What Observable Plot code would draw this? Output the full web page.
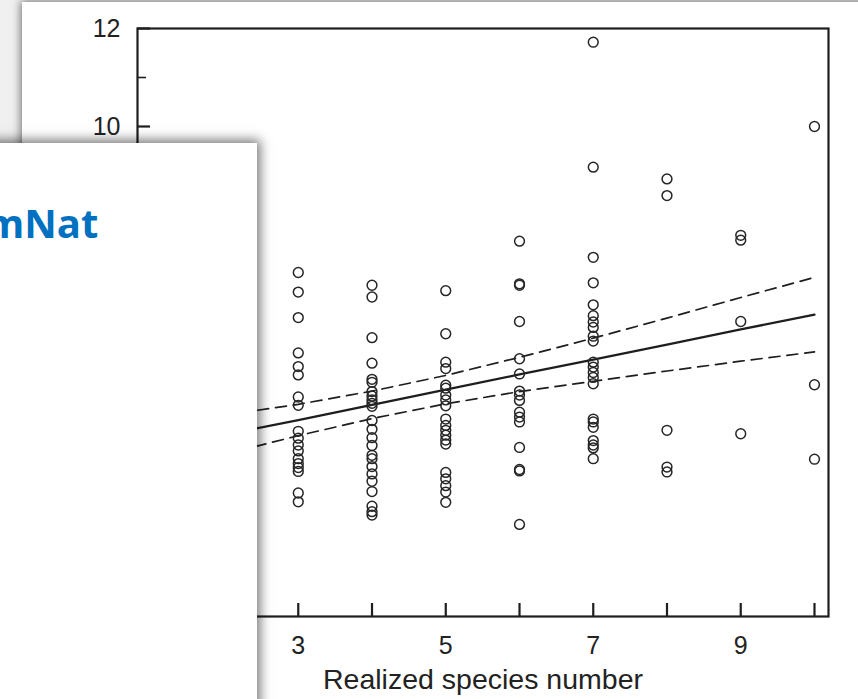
<!DOCTYPE html>
<html>
<head>
<meta charset="utf-8">
<script src="https://cdn.jsdelivr.net/npm/d3@7"></script>
<script src="https://cdn.jsdelivr.net/npm/@observablehq/plot@0.6"></script>
<style>
  html, body { margin: 0; padding: 0; background: #fff; }
  #stage { position: relative; width: 858px; height: 699px; overflow: hidden; background: #f0f0f0; }
  #sheet { position: absolute; left: 22px; top: 2px; width: 900px; height: 760px; background: #fff;
           box-shadow: 0 0 9px 1px rgba(0,0,0,0.55); }
  #chart { position: absolute; left: 0; top: 0; }
  #panel { position: absolute; left: -30px; top: 143px; width: 287px; height: 620px; background: #fff;
           box-shadow: 0 0 11px 3px rgba(0,0,0,0.55); }
  #panel .head { position: absolute; left: 15px; top: 60px; font: 700 40px/40px "Open Sans", sans-serif;
                 color: #0070C0; white-space: nowrap; }
</style>
</head>
<body>
<div id="stage">
  <div id="sheet"></div>
  <div id="chart"></div>
  <div id="panel"><div class="head">mNat</div></div>
</div>
<script>
// Observed values for each realized species number
const speciesLevels = [3, 4, 5, 6, 7, 8, 9, 10];
const valuesAt3 = [7.02, 6.62, 6.10, 5.38, 5.10, 4.93, 4.48, 4.31, 3.78, 3.64, 3.50, 3.38, 3.22, 3.12, 3.04, 2.96, 2.52, 2.34];
const valuesAt4 = [6.76, 6.52, 5.69, 5.17, 4.84, 4.78, 4.59, 4.50, 4.42, 4.35, 4.29, 4.00, 3.82, 3.65, 3.49, 3.29, 3.22, 3.06, 2.91, 2.76, 2.55, 2.25, 2.14, 2.07];
const valuesAt5 = [6.65, 5.77, 5.19, 5.06, 4.72, 4.66, 4.52, 4.42, 4.30, 4.03, 3.90, 3.80, 3.70, 3.60, 3.52, 2.94, 2.81, 2.67, 2.54, 2.33];
const valuesAt6 = [7.66, 6.79, 6.76, 6.02, 5.26, 4.95, 4.60, 4.52, 4.41, 4.17, 4.07, 3.97, 3.45, 3.00, 2.97, 1.88];
const valuesAt7 = [11.72, 9.17, 7.33, 6.81, 6.36, 6.14, 6.01, 5.90, 5.72, 5.62, 5.19, 5.09, 4.98, 4.88, 4.75, 4.03, 3.97, 3.86, 3.59, 3.50, 3.44, 3.22];
const valuesAt8 = [8.93, 8.59, 3.80, 3.05, 2.95];
const valuesAt9 = [7.78, 7.68, 6.02, 3.73];
const valuesAt10 = [10.0, 4.73, 3.21];

// Fitted regression line with its confidence band
const fitSpecies = [1, 2, 3, 4, 5, 6, 7, 8, 9, 10];
const fitMean  = [3.40, 3.71, 4.01, 4.32, 4.63, 4.94, 5.24, 5.55, 5.86, 6.16];
const fitUpper = [3.90, 4.11, 4.33, 4.60, 4.92, 5.29, 5.68, 6.09, 6.51, 6.92];
const fitLower = [2.90, 3.31, 3.69, 4.04, 4.34, 4.59, 4.80, 5.01, 5.21, 5.40];

// Axis ticks
const xTicks = [1, 2, 3, 4, 5, 6, 7, 8, 9, 10];
const xTickLabels = [1, 3, 5, 7, 9];
const yMajorTicks = [0, 2, 4, 6, 8, 10, 12];
const yMinorTicks = [1, 3, 5, 7, 9, 11];
const xTitle = "Realized species number";

const columns = [valuesAt3, valuesAt4, valuesAt5, valuesAt6, valuesAt7, valuesAt8, valuesAt9, valuesAt10];
const points = columns.flatMap((vals, i) => vals.map(v => ({species: speciesLevels[i], value: v})));
const fit = fitSpecies.map((s, i) => ({species: s, mean: fitMean[i], upper: fitUpper[i], lower: fitLower[i]}));

const W = 858, H = 699;
const margin = {top: 28, right: 30, bottom: 83, left: 137};
const plotW = W - margin.left - margin.right;
const plotH = H - margin.top - margin.bottom;
const ink = "#1e1e1e";

const chart = Plot.plot({
  width: W,
  height: H,
  marginTop: margin.top,
  marginRight: margin.right,
  marginBottom: margin.bottom,
  marginLeft: margin.left,
  style: {fontFamily: "'Liberation Sans', Arial, sans-serif", background: "transparent", color: "#222", overflow: "visible"},
  x: {domain: [0.82, 10.19], axis: null},
  y: {domain: [0, 12], axis: null},
  marks: [
    Plot.line(fit, {x: "species", y: "upper", stroke: ink, strokeWidth: 1.7, strokeDasharray: "11,7"}),
    Plot.line(fit, {x: "species", y: "lower", stroke: ink, strokeWidth: 1.7, strokeDasharray: "11,7"}),
    Plot.line(fit, {x: "species", y: "mean", stroke: ink, strokeWidth: 2.3}),
    Plot.dot(points, {x: "species", y: "value", r: 4.9, stroke: "#262626", strokeWidth: 1.5, fill: "none"}),
    Plot.tickX(xTicks, {x: d => d, insetTop: plotH - 13, stroke: ink, strokeWidth: 2.2}),
    Plot.tickY(yMajorTicks, {y: d => d, insetRight: plotW - 13, stroke: ink, strokeWidth: 2.2}),
    Plot.tickY(yMinorTicks, {y: d => d, insetRight: plotW - 9, stroke: ink, strokeWidth: 1.6}),
    Plot.axisX(xTickLabels, {tickSize: 0, tickPadding: 20, fontSize: 25, fill: "#222", label: null}),
    Plot.axisY(yMajorTicks, {tickSize: 0, tickPadding: 17, fontSize: 25, fill: "#222", label: null}),
    Plot.text([xTitle], {frameAnchor: "bottom", dy: 72, fontSize: 28.5, fill: "#222"}),
    Plot.frame({stroke: ink, strokeWidth: 2.2})
  ]
});
document.getElementById("chart").appendChild(chart);
</script>
</body>
</html>
